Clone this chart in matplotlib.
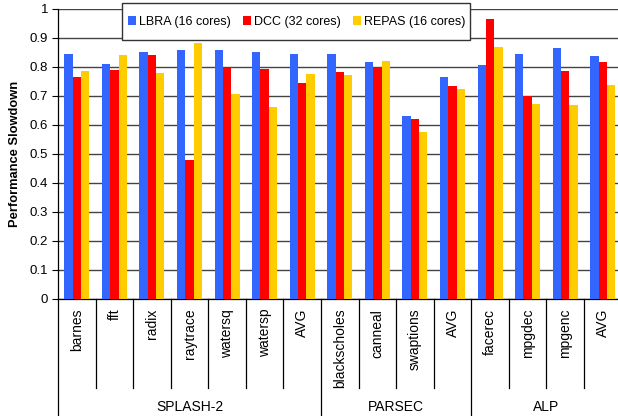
import numpy as np
import matplotlib.pyplot as plt
from matplotlib.patches import Rectangle
from matplotlib.transforms import blended_transform_factory

plt.rcParams['font.family'] = ['Liberation Sans', 'DejaVu Sans']

benchmarks = ['barnes', 'fft', 'radix', 'raytrace', 'watersq', 'watersp', 'AVG',
              'blackscholes', 'canneal', 'swaptions', 'AVG',
              'facerec', 'mpgdec', 'mpgenc', 'AVG']
suites = ['SPLASH-2', 'PARSEC', 'ALP']
suite_sizes = [7, 4, 4]

lbra = [0.844, 0.810, 0.851, 0.858, 0.858, 0.851, 0.844,
        0.844, 0.816, 0.630, 0.764,
        0.806, 0.844, 0.865, 0.837]
dcc = [0.764, 0.789, 0.840, 0.478, 0.797, 0.792, 0.744,
       0.782, 0.799, 0.620, 0.734,
       0.965, 0.699, 0.786, 0.816]
repas = [0.786, 0.840, 0.778, 0.882, 0.706, 0.661, 0.775,
         0.772, 0.820, 0.575, 0.723,
         0.868, 0.671, 0.668, 0.737]

series = [('LBRA (16 cores)', lbra, '#3366FF'),
          ('DCC (32 cores)', dcc, '#FF0000'),
          ('REPAS (16 cores)', repas, '#FFCC00')]

W, H = 618, 416
fig = plt.figure(figsize=(W / 100, H / 100), dpi=100)
ax = fig.add_axes([58 / W, 1 - 298.7 / H, (621.6 - 58) / W, 290 / H])

x = np.arange(len(benchmarks))
bw = 0.222
for i, (name, vals, col) in enumerate(series):
    ax.bar(x + (i - 1) * bw, vals, bw, color=col, label=name, zorder=3)

ax.set_xlim(-0.5, len(benchmarks) - 0.5)
ax.set_ylim(0, 1)
ax.set_yticks(np.arange(0, 1.01, 0.1))
ax.set_yticklabels(['0'] + ['%.1f' % v for v in np.arange(0.1, 0.95, 0.1)] + ['1'])
ax.yaxis.grid(True, color='#444444', lw=1, zorder=1)
ax.tick_params(axis='y', length=4, width=0.8, labelsize=9.5, pad=3)
ax.set_xticks([])
for s in ['top', 'right']:
    ax.spines[s].set_visible(False)
ax.spines['left'].set_linewidth(0.9)
ax.spines['bottom'].set_linewidth(0.9)

ax.set_ylabel('Performance Slowdown', fontsize=9.3, fontweight='bold', labelpad=6)

# hierarchical category axis
tr = blended_transform_factory(ax.transData, ax.transAxes)
inner_low = -89 / 290
outer_low = -116 / 290
for i, b in enumerate(benchmarks):
    ax.text(i, -0.035, b, rotation=90, ha='center', va='top', fontsize=10, transform=tr)
bounds = np.cumsum(suite_sizes)
for k in range(1, len(benchmarks)):
    low = outer_low if k in bounds else inner_low
    ax.plot([k - 0.5, k - 0.5], [0, low], color='black', lw=0.9, transform=tr, clip_on=False)
ax.plot([-0.5, -0.5], [0, outer_low], color='black', lw=0.9, transform=tr, clip_on=False)
start = 0
for name, n in zip(suites, suite_sizes):
    ax.text(start + n / 2 - 0.5, -0.375, name, ha='center', va='center', fontsize=10, transform=tr)
    start += n

# legend box drawn separately (wide vertical padding, tight horizontal)
box = Rectangle((122 / W, 1 - 40 / H), 348 / W, 37 / H, transform=fig.transFigure,
                facecolor='white', edgecolor='#333333', lw=1.0, zorder=5)
fig.patches.append(box)
leg = fig.legend(loc='center left', bbox_to_anchor=(128 / W, 1 - 22 / H), ncol=3, fontsize=9.0,
                 frameon=False, handlelength=0.65, handleheight=0.65, handletextpad=0.25,
                 columnspacing=0.95, borderpad=0, borderaxespad=0)
leg.set_zorder(6)

fig.savefig('out.png', dpi=100)
